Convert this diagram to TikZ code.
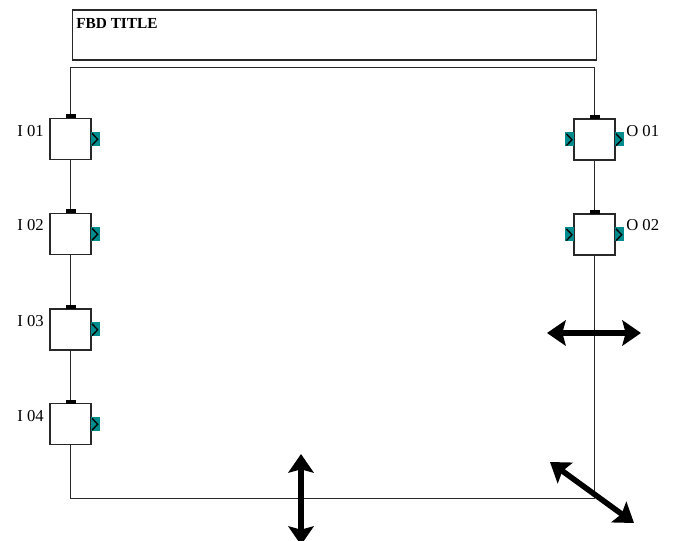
\documentclass[tikz,border=0pt]{standalone}
\usepackage{fontspec}
\setmainfont{Liberation Serif}
\usetikzlibrary{arrows.meta}
\definecolor{wire}{RGB}{40,40,40}
\definecolor{tealtab}{RGB}{0,140,140}
\tikzset{
  wireline/.style={draw=wire, line width=1.4pt},
  fbdblock/.style={draw=wire, line width=1.4pt, fill=white, minimum width=30.75pt, minimum height=30.75pt, inner sep=0pt, outer sep=0pt},
  lbl/.style={font=\fontsize{12.5}{14}\selectfont, inner sep=0pt},
  handle/.style={line width=4.2pt, {Stealth[length=14pt,width=19pt,inset=2.5pt]}-{Stealth[length=14pt,width=19pt,inset=2.5pt]}},
}
\newcommand{\toptab}[1]{\fill (#1.north) ++(-3.75pt,0) rectangle ++(7.5pt,3pt);}
\newcommand{\pinR}[1]{%
  \fill[tealtab] (#1.east) ++(0,-5pt) rectangle ++(6.5pt,10.5pt);
  \draw[line width=1pt] (#1.east) ++(0.8pt,4.2pt) -- ++(4.2pt,-4.4pt) -- ++(-4.2pt,-4.4pt);}
\newcommand{\pinL}[1]{%
  \fill[tealtab] (#1.west) ++(0,-5pt) rectangle ++(-6.5pt,10.5pt);
  \draw[line width=1pt] (#1.west) ++(-5.7pt,4.2pt) -- ++(4.2pt,-4.4pt) -- ++(-4.2pt,-4.4pt);}
\begin{document}
\begin{tikzpicture}[x=0.75pt,y=-0.75pt]
\useasboundingbox (0,0) rectangle (674,541);
% title box
\node[wireline, minimum width=393pt, minimum height=37.5pt, inner sep=0pt, anchor=north west] (title) at (71.5,9.5) {};
\node[font=\fontsize{11.5}{13}\selectfont\bfseries, anchor=north west, inner sep=0pt] (titletext) at (76,18) {FBD TITLE};
% blocks
\node[fbdblock] (I1) at (70.5,139) {};
\node[fbdblock] (I2) at (70.5,234) {};
\node[fbdblock] (I3) at (70.5,329.5) {};
\node[fbdblock] (I4) at (70.5,424) {};
\node[fbdblock] (O1) at (594.5,139.5) {};
\node[fbdblock] (O2) at (594.5,234.5) {};
% frame corners
\coordinate (tl) at (70.5,67.5);
\coordinate (tr) at (594.5,67.5);
\coordinate (bl) at (70.5,498.5);
\coordinate (br) at (594.5,498.5);
\draw[wireline] (I1.north) -- (tl) -- (tr) -- (O1.north);
\draw[wireline] (I1.south) -- (I2.north);
\draw[wireline] (I2.south) -- (I3.north);
\draw[wireline] (I3.south) -- (I4.north);
\draw[wireline] (I4.south) -- (bl) -- (br) -- (O2.south);
\draw[wireline] (O1.south) -- (O2.north);
% tabs
\foreach \b in {I1,I2,I3,I4,O1,O2} {\toptab{\b}}
\foreach \b in {I1,I2,I3,I4,O1,O2} {\pinR{\b}}
\pinL{O1}
\pinL{O2}
% labels
\node[lbl, anchor=east] (lI1) at (44,131) {I 01};
\node[lbl, anchor=east] (lI2) at (44,225) {I 02};
\node[lbl, anchor=east] (lI3) at (44,321) {I 03};
\node[lbl, anchor=east] (lI4) at (44,416) {I 04};
\node[lbl, anchor=west] (lO1) at (626,131) {O 01};
\node[lbl, anchor=west] (lO2) at (626,225) {O 02};
% handles
\coordinate (hA) at (547,333);
\coordinate (hB) at (641,333);
\coordinate (dA) at (550,462);
\coordinate (dB) at (634,523);
\coordinate (vA) at (301,454);
\coordinate (vB) at (301,545);
\draw[handle] (hA) -- (hB);
\draw[handle] (dA) -- (dB);
\draw[handle] (vA) -- (vB);
\end{tikzpicture}
\end{document}
